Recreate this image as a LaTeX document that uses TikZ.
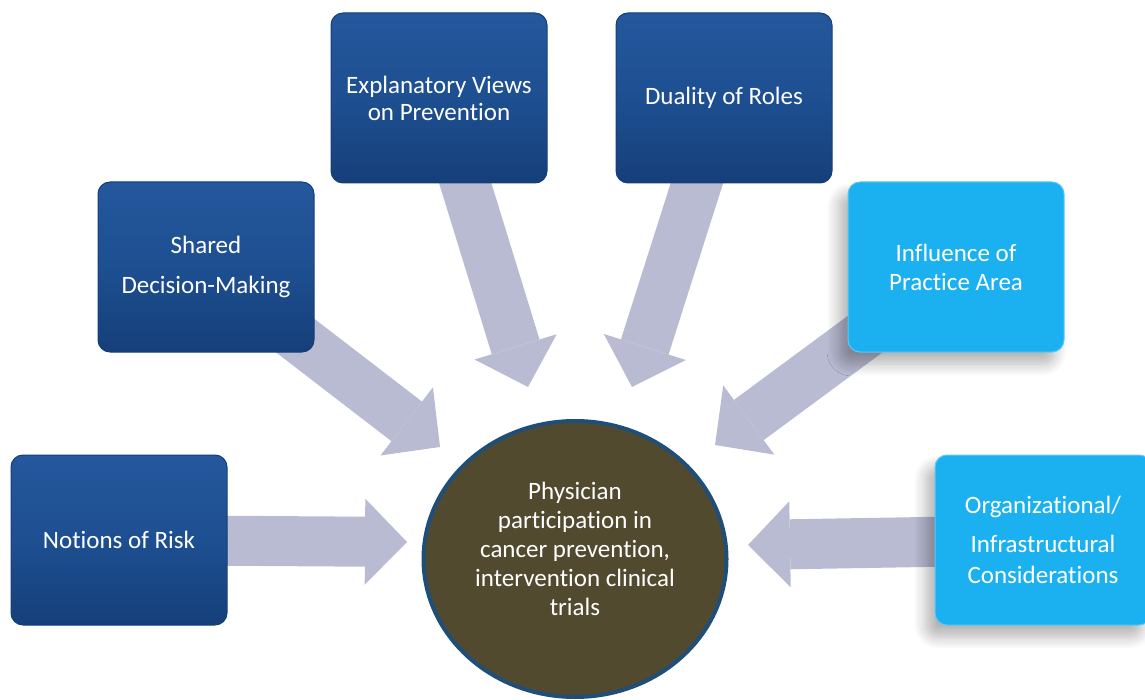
\documentclass[tikz,border=0pt]{standalone}
\usepackage{fontspec}
\setmainfont{Carlito}[Ligatures=NoCommon]
\usetikzlibrary{arrows.meta,shapes.geometric,backgrounds,shadows.blur}

\definecolor{boxblue}{HTML}{1D4F91}
\definecolor{boxbluetop}{HTML}{24579C}
\definecolor{boxbluebot}{HTML}{163F79}
\definecolor{skyblue}{HTML}{1BB0F0}
\definecolor{hubfill}{HTML}{524A2F}
\definecolor{hubline}{HTML}{1F4E79}
\definecolor{arrowgrey}{HTML}{B8BBD2}

\begin{document}
\begin{tikzpicture}[x=1pt,y=-1pt,
    box/.style={rounded corners=12pt,minimum width=216pt,minimum height=170pt,inner sep=0pt,align=center,text=white,font=\fontsize{25}{29}\selectfont},
    darkbox/.style={box,top color=boxbluetop,bottom color=boxbluebot,middle color=boxblue,draw=boxbluebot,line width=1pt},
    lightbox/.style={box,fill=skyblue,draw=skyblue!70!white,line width=1pt,blur shadow={shadow xshift=-9pt,shadow yshift=-12pt,shadow blur radius=12pt,shadow blur steps=12,shadow opacity=30}},
    hub/.style={ellipse,draw=hubline,line width=4pt,fill=hubfill,minimum width=303pt,minimum height=276pt,inner sep=0pt},
    hubtext/.style={text=white,align=center,font=\fontsize{25}{29}\selectfont},
    bigarrow/.style={color=arrowgrey,line width=50pt,-{Triangle[line width=0pt,length=42pt,width=86pt]}}]

    \useasboundingbox (0,0) rectangle (1145,700);

    % outer topics
    \node[darkbox] (risk) at (119,540) {Notions of Risk};
    \node[darkbox] (shared) at (206,267) {Shared\\[11pt]Decision-Making};
    \node[darkbox] (views) at (439,98) {Explanatory Views\\[-2pt]on Prevention};
    \node[darkbox] (roles) at (724,98) {Duality of Roles};
    \node[lightbox] (area) at (956,267) {Influence of\\Practice Area};
    \node[lightbox] (infra) at (1043,540) {Organizational/\\[10pt]Infrastructural\\[2pt]Considerations};

    % centre
    \node[hub,label={[hubtext,yshift=10pt]center:{Physician\\participation in\\cancer prevention,\\intervention clinical\\trials}}] (trials) at (575,559) {};

    \coordinate (riskTip) at (407,542);
    \coordinate (sharedTip) at (440,447);
    \coordinate (viewsTip) at (528,387);
    \coordinate (rolesTip) at (632,387);
    \coordinate (areaTip) at (715,445);
    \coordinate (infraTip) at (748,545);

    \begin{scope}[on background layer]
        \path[bigarrow]
            (risk.center) edge (riskTip)
            (shared.center) edge (sharedTip)
            (views.center) edge (viewsTip)
            (roles.center) edge (rolesTip)
            (area.center) edge (areaTip)
            (infra.center) edge (infraTip)
            ;
    \end{scope}
\end{tikzpicture}
\end{document}
